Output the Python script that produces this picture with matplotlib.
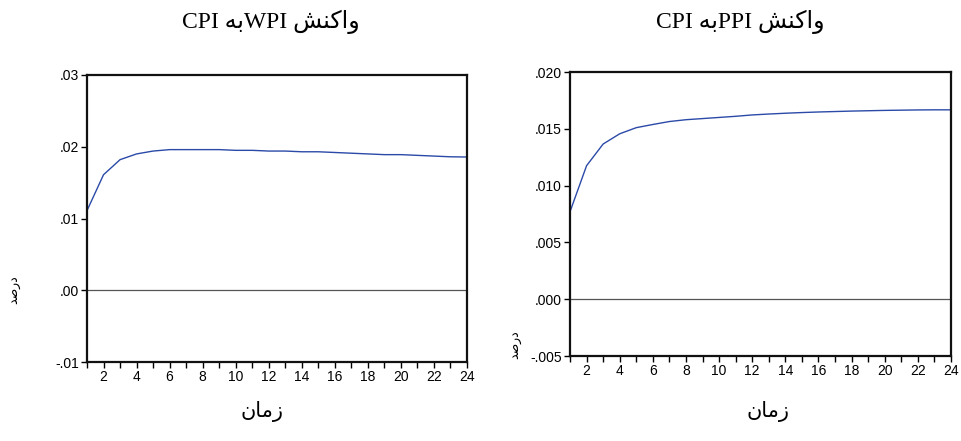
import numpy as np
from matplotlib import pyplot as plt
from matplotlib.ticker import MultipleLocator, FixedLocator

# periods and impulse responses
periods = np.arange(1, 25)
wpi_resp = [0.0111, 0.0161, 0.0182, 0.0190, 0.0194, 0.0196, 0.0196, 0.0196,
            0.0196, 0.0195, 0.0195, 0.0194, 0.0194, 0.0193, 0.0193, 0.0192,
            0.0191, 0.0190, 0.0189, 0.0189, 0.0188, 0.0187, 0.0186, 0.01857]
ppi_resp = [0.0077, 0.01175, 0.01366, 0.01456, 0.0151, 0.01538, 0.01564, 0.0158,
            0.0159, 0.0160, 0.0161, 0.01622, 0.0163, 0.01637, 0.01643, 0.01648,
            0.01652, 0.01656, 0.01659, 0.01662, 0.01664, 0.01666, 0.01667, 0.01667]

wpi_yticks = [-0.01, 0.00, 0.01, 0.02, 0.03]
wpi_ylabels = ['-.01', '.00', '.01', '.02', '.03']
ppi_yticks = [-0.005, 0.000, 0.005, 0.010, 0.015, 0.020]
ppi_ylabels = ['-.005', '.000', '.005', '.010', '.015', '.020']
xticks = list(range(2, 25, 2))

# Persian text, written as shaped presentation forms in visual (left to right) order
# since matplotlib does no Arabic shaping: واکنش / به / زمان / درصد
vakonesh = '\uFEB6\uFEE8\uFB90\uFE8D\uFEED'
be = '\uFEEA\uFE91'
zaman = '\uFEE5\uFE8E\uFEE3\uFEAF'
darsad = '\uFEAA\uFEBB\uFEAD\uFEA9'

title_left = 'CPI ' + be + 'WPI ' + vakonesh
title_right = 'CPI ' + be + 'PPI ' + vakonesh

serif = ['Liberation Serif', 'DejaVu Sans']
sans = ['Liberation Sans', 'DejaVu Sans']
line_col = '#2b4aa8'

fig = plt.figure(figsize=(9.61, 4.41), dpi=100)
ax1 = fig.add_axes([87/961, 1-362/441, 380/961, 287/441])
ax2 = fig.add_axes([570/961, 1-356/441, 381/961, 284/441])


def style_axes(ax, yticks, ylabels, ylim):
    ax.set_xlim(1, 24)
    ax.set_ylim(*ylim)
    ax.axhline(0, color='#555555', lw=0.9)
    ax.xaxis.set_major_locator(FixedLocator(xticks))
    ax.xaxis.set_minor_locator(MultipleLocator(1))
    ax.set_yticks(yticks)
    ax.set_yticklabels(ylabels, family=sans, fontsize=10)
    ax.set_xticklabels([str(t) for t in xticks], family=sans, fontsize=10)
    ax.tick_params(which='both', direction='out', length=4, width=1, color='black',
                   top=False, right=False, pad=2)
    for sp in ax.spines.values():
        sp.set_linewidth(1.6)
        sp.set_color('#111111')


ax1.plot(periods, wpi_resp, color=line_col, lw=1)
style_axes(ax1, wpi_yticks, wpi_ylabels, (-0.01, 0.03))

ax2.plot(periods, ppi_resp, color=line_col, lw=1)
style_axes(ax2, ppi_yticks, ppi_ylabels, (-0.005, 0.020))

fig.text(271/961, 1-22/441, title_left, family=serif, fontsize=17, ha='center', va='center')
fig.text(740/961, 1-22/441, title_right, family=serif, fontsize=17, ha='center', va='center')

fig.text(262/961, 1-412/441, zaman, family=sans, fontsize=15, ha='center', va='center')
fig.text(768/961, 1-412/441, zaman, family=sans, fontsize=15, ha='center', va='center')

fig.text(14/961, 1-290/441, darsad, family=sans, fontsize=9, rotation=90, ha='center', va='center')
fig.text(515/961, 1-345/441, darsad, family=sans, fontsize=9, rotation=90, ha='center', va='center')

fig.savefig('out.png', dpi=100)
